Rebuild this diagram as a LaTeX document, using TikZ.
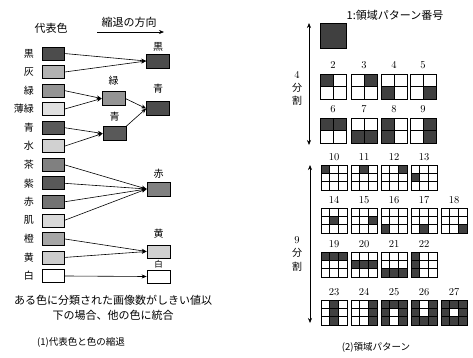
\documentclass[tikz,border=0pt]{standalone}
\usepackage{fontspec}
\newfontfamily\jp{Noto Sans CJK JP}
\usetikzlibrary{arrows.meta}
\newcommand{\patA}[4]{%
  \foreach \r/\c in {#3} {\fill[pfill] ({#1+\c*13},{#2+\r*12.5}) rectangle ++(13,12.5);}
  \draw[pgrid] ({#1+13},#2) -- ++(0,25) (#1,{#2+12.5}) -- ++(26,0);
  \draw[pout] (#1,#2) rectangle ++(26,25);
  \node[num] (n#4) at ({#1+13},{#2-9}) {#4};
}
\newcommand{\patB}[4]{%
  \foreach \r/\c in {#3} {\fill[pfill] ({#1+\c*26/3},{#2+\r*25/3}) rectangle ++({26/3},{25/3});}
  \draw[pgrid] ({#1+26/3},#2) -- ++(0,25) ({#1+52/3},#2) -- ++(0,25)
     (#1,{#2+25/3}) -- ++(26,0) (#1,{#2+50/3}) -- ++(26,0);
  \draw[pout] (#1,#2) rectangle ++(26,25);
  \node[num] (n#4) at ({#1+13},{#2-8}) {#4};
}
\begin{document}
\begin{tikzpicture}[x=1pt,y=-1pt,
  jl/.style={font=\jp\fontsize{10}{12}\selectfont, inner sep=0pt},
  jt/.style={font=\jp\fontsize{11}{13}\selectfont, inner sep=0pt},
  jc/.style={font=\jp\fontsize{9.5}{12}\selectfont, inner sep=0pt},
  cbox/.style={draw, line width=0.7pt, minimum width=22pt, minimum height=13pt, inner sep=0pt},
  tbox/.style={draw, line width=0.7pt, minimum width=23pt, minimum height=14pt, inner sep=0pt},
  arr/.style={-{Stealth[length=5pt,width=4pt]}, line width=0.6pt},
  darr/.style={{Stealth[length=5pt,width=4pt]}-{Stealth[length=5pt,width=4pt]}, line width=0.6pt},
  num/.style={font=\fontsize{10.5}{12}\selectfont, inner sep=0pt},
  pfill/.style={fill=black!75},
  pout/.style={draw, line width=0.9pt},
  pgrid/.style={draw, line width=0.5pt}]
\useasboundingbox (0,0) rectangle (473,357);

% ---------- left panel ----------
\node[jt] (hdr) at (51,28) {代表色};
\node[jt] (dir) at (129,22) {縮退の方向};
\coordinate (d1) at (97,32);
\coordinate (d2) at (164,32);
\draw[arr] (d1) -- (d2);

\foreach \i/\n/\t/\f in {0/kuro/黒/black!70, 1/hai/灰/black!30, 2/midori/緑/black!42,
  3/usumidori/薄緑/black!12, 4/ao/青/black!65, 5/mizu/水/black!18, 6/cha/茶/black!50,
  7/murasaki/紫/black!65, 8/aka/赤/black!55, 9/hada/肌/black!15, 10/daidai/橙/black!35,
  11/ki/黄/black!20, 12/shiro/白/white}
{
  \node[cbox, fill=\f] (s\n) at (53,{53.5+18.54*\i}) {};
  \node[jl, anchor=east] (l\n) at (34,{53.5+18.54*\i}) {\t};
}

% middle targets
\node[tbox, fill=black!42] (mmidori) at (113.5,98.5) {};
\node[jl] (mmidoril) at (113.5,81) {緑};
\node[tbox, fill=black!65] (mao) at (114.5,133.5) {};
\node[jl] (maol) at (114.5,117) {青};

% right targets
\node[tbox, fill=black!70] (tkuro) at (158,61) {};
\node[jl] (tkurol) at (158,47) {黒};
\node[tbox, fill=black!70] (tao) at (158,108.5) {};
\node[jl] (taol) at (158,89) {青};
\node[tbox, fill=black!50] (taka) at (158.5,189) {};
\node[jl] (takal) at (158.5,174) {赤};
\node[tbox, fill=black!18, minimum height=13pt] (tki) at (158.5,251.5) {};
\node[jl] (tkil) at (158.5,234) {黄};
\node[tbox, fill=white, minimum height=13pt] (tshiro) at (158.5,276.5) {};
\node[jl, font=\jp\fontsize{8.5}{9}\selectfont] (tshirol) at (158.5,264) {白};

% arrows
\draw[arr] (skuro.east) -- (tkuro.west);
\draw[arr] (shai.east) -- (tkuro.west);
\draw[arr] (smidori.east) -- (mmidori.west);
\draw[arr] (susumidori.east) -- (mmidori.west);
\draw[arr] (sao.east) -- (mao.west);
\draw[arr] (smizu.east) -- (mao.west);
\draw[arr] (mmidori.east) -- (tao.west);
\draw[arr] (mao.north east) -- (tao.west);
\draw[arr] (scha.east) -- (taka.west);
\draw[arr] (smurasaki.east) -- (taka.west);
\draw[arr] (saka.east) -- (taka.west);
\draw[arr] (shada.east) -- (taka.west);
\draw[arr] (sdaidai.east) -- (tki.west);
\draw[arr] (ski.east) -- (tki.west);
\draw[arr] (sshiro.east) -- (tshiro.west);

\node[jt] (note1) at (113,300) {ある色に分類された画像数がしきい値以};
\node[jt] (note2) at (113,315) {下の場合、他の色に統合};
\node[jc] (cap1) at (81,342) {(1)代表色と色の縮退};

% ---------- right panel ----------
\node[jt] (legend) at (395,15) {1:領域パターン番号};
\fill[pfill] (320,23) rectangle ++(26,25);
\draw[pout] (320,23) rectangle ++(26,25);

\coordinate (a4t) at (309,23);
\coordinate (a4b) at (309,145);
\draw[darr] (a4t) -- (a4b);
\node[num] (d4n) at (297,75) {4};
\node[jl] (d4a) at (297,88) {分};
\node[jl] (d4b) at (297,101) {割};

\coordinate (a9t) at (310,165);
\coordinate (a9b) at (310,323);
\draw[darr] (a9t) -- (a9b);
\node[num] (d9n) at (297,240) {9};
\node[jl] (d9a) at (297,253) {分};
\node[jl] (d9b) at (297,267) {割};

\patA{320}{74}{0/0}{2}
\patA{351}{74}{0/1}{3}
\patA{381}{74}{1/0}{4}
\patA{410}{74}{1/1}{5}
\patA{320}{118}{0/0,0/1}{6}
\patA{351}{118}{1/0,1/1}{7}
\patA{381}{118}{0/0,1/0}{8}
\patA{410}{118}{0/1,1/1}{9}

\patB{321}{165}{0/0}{10}
\patB{351}{165}{0/1}{11}
\patB{381}{165}{0/2}{12}
\patB{411}{165}{1/0}{13}

\patB{321}{208}{1/1}{14}
\patB{351}{208}{1/2}{15}
\patB{381}{208}{2/0}{16}
\patB{411}{208}{2/1}{17}
\patB{441}{208}{2/2}{18}

\patB{321}{252}{0/0,0/1,0/2}{19}
\patB{351}{252}{1/0,1/1,1/2}{20}
\patB{381}{252}{2/0,2/1,2/2}{21}
\patB{411}{252}{0/0,1/0,2/0}{22}

\patB{321}{300}{0/1,1/1,2/1}{23}
\patB{351}{300}{0/2,1/2,2/2}{24}
\patB{381}{300}{0/0,0/1,0/2,1/0,1/2,2/0,2/2}{25}
\patB{411}{300}{0/0,0/2,1/0,1/2,2/0,2/1,2/2}{26}
\patB{441}{300}{0/0,0/1,0/2,1/0,1/2,2/0,2/1,2/2}{27}

\node[jc] (cap2) at (376,347) {(2)領域パターン};
\end{tikzpicture}
\end{document}
